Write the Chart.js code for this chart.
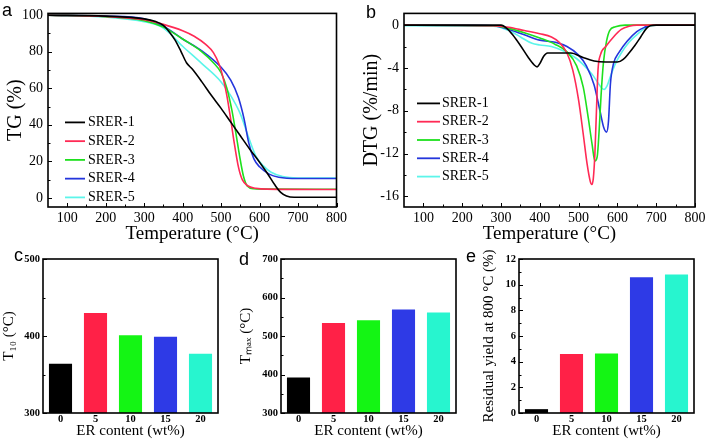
<!DOCTYPE html>
<html><head><meta charset="utf-8">
<script src="https://cdn.jsdelivr.net/npm/chart.js@4.4.1/dist/chart.umd.min.js"></script>
<style>
html,body{margin:0;padding:0;background:#fff;}
#wrap{position:relative;width:709px;height:445px;overflow:hidden;background:#fff;}
canvas{position:absolute;}
.lab{position:absolute;font-family:"Liberation Sans",Arial,sans-serif;font-size:18px;line-height:18px;color:#000;}
</style></head><body>
<div id="wrap">
<canvas id="ca" width="350" height="245" style="left:0;top:0;width:350px;height:245px"></canvas>
<canvas id="cb" width="354" height="245" style="left:355px;top:0;width:354px;height:245px"></canvas>
<canvas id="cc" width="235" height="200" style="left:0;top:240px;width:235px;height:200px"></canvas>
<canvas id="cd" width="235" height="200" style="left:235px;top:240px;width:235px;height:200px"></canvas>
<canvas id="ce" width="239" height="200" style="left:470px;top:240px;width:239px;height:200px"></canvas>
<div class="lab" style="left:2px;top:1px">a</div>
<div class="lab" style="left:366px;top:3px">b</div>
<div class="lab" style="left:14px;top:246px">c</div>
<div class="lab" style="left:239px;top:250px">d</div>
<div class="lab" style="left:466px;top:247px">e</div>
</div>
<script>
// ---------- DATA ----------
const seriesNames = ['SRER-1','SRER-2','SRER-3','SRER-4','SRER-5'];
const lineColors = ['#000000','#ff2a55','#1ee01e','#2436dc','#5cf5ea'];
const barColors  = ['#000000','#ff2147','#14f514','#2e3ae6','#27f5cf'];

const tempTicks = [100,200,300,400,500,600,700,800];
const tgTicks = [0,20,40,60,80,100];
const dtgTicks = [0,-4,-8,-12,-16];

// TG (%) curves
const tgT1 = [50,200,300,330,350,365,380,395,410,425,450,475,500,525,550,575,600,620,640,655,670,690,800];
const tgV1 = [100,99.5,98,96.5,94.5,91,86.5,80.5,74,70.5,63.5,56,49,41.5,34,26.5,19.5,13.5,7,3,1,0.3,0.3];
const tgT2 = [50,200,300,350,400,430,460,480,495,505,515,525,535,545,555,570,590,620,800];
const tgV2 = [100,99.3,97.5,95,91.5,88.5,84,79.5,73,66,56,43,29,17,10,6.5,5.3,4.8,4.6];
const tgT3 = [50,200,300,350,400,450,480,500,515,528,538,548,558,568,585,620,800];
const tgV3 = [100,99.2,97,93.5,87,80,74,68.5,60,48,36,23,12,6.5,5,4.8,4.7];
const tgT4 = [50,200,300,350,400,450,500,525,545,560,572,585,600,625,650,700,800];
const tgV4 = [100,99.5,98,94,87,80.5,71.5,64.5,55,43,30,21.5,17,13,11.3,10.6,10.6];
const tgT5 = [50,200,300,350,400,450,500,525,550,570,590,610,630,660,700,800];
const tgV5 = [100,99,96.5,93,83,73.5,63.5,56,46,34,23,17.5,14,11.7,10.9,10.8];

// DTG (%/min) curves
const dtgT1 = [50,300,315,330,350,370,385,393,400,410,420,450,480,510,540,570,600,615,630,645,660,675,685,700,800];
const dtgV1 = [0,0,-0.3,-0.9,-1.9,-3.0,-3.7,-3.9,-3.6,-2.9,-2.6,-2.6,-2.6,-3.0,-3.35,-3.45,-3.45,-3.2,-2.6,-1.9,-1.1,-0.3,-0.05,0,0];
const dtgT2 = [50,280,320,360,400,430,450,470,485,500,512,522,530,534,538,542,546,550,556,570,590,610,630,650,800];
const dtgV2 = [0,-0.05,-0.2,-0.5,-0.8,-1.1,-1.6,-2.6,-4.2,-7.0,-10.2,-13.0,-14.6,-14.9,-14.3,-12.0,-8.0,-4.2,-2.8,-2.0,-1.1,-0.4,-0.1,0,0];
const dtgT3 = [50,280,320,360,400,440,470,495,512,525,535,542,548,553,558,564,572,580,595,620,800];
const dtgV3 = [0,-0.05,-0.3,-0.7,-1.2,-1.8,-2.5,-3.8,-5.8,-8.7,-11.2,-12.7,-12.3,-9.8,-6.5,-3.5,-1.5,-0.5,-0.15,0,0];
const dtgT4 = [50,280,320,360,400,440,470,500,520,540,555,565,572,577,582,590,605,625,650,670,685,800];
const dtgV4 = [0,-0.05,-0.4,-0.9,-1.4,-1.6,-2.0,-2.8,-3.8,-5.6,-8.0,-9.6,-10.0,-9.0,-5.5,-3.6,-2.5,-1.5,-0.6,-0.2,0,0];
const dtgT5 = [50,280,320,350,380,400,430,460,490,515,535,550,560,566,573,582,595,610,630,650,670,685,700,800];
const dtgV5 = [-0.05,-0.1,-0.5,-1.1,-1.7,-1.85,-2.0,-2.4,-3.0,-3.8,-4.6,-5.4,-5.9,-6.0,-5.7,-4.8,-3.6,-2.6,-1.6,-0.9,-0.3,-0.05,0,0];

// Bar panels
const erContent = ['0','5','10','15','20'];
const t10Values = [364,430,401,399,377];
const tmaxValues = [392,534,541,569,561];
const residualValues = [0.3,4.6,4.63,10.57,10.8];
const t10Ticks = [300,400,500];
const tmaxTicks = [300,400,500,600,700];
const residualTicks = [0,2,4,6,8,10,12];

// ---------- HELPERS ----------
const FAM = "'Liberation Serif', 'Times New Roman', serif";
Chart.defaults.font.family = FAM;
Chart.defaults.color = '#000';
function F(size, weight){ return {family:FAM, size:size, weight:weight||'normal'}; }

function pts(T, V){ return T.map((t,i)=>({x:t, y:V[i]})); }
function minors(major){ const r=[]; for(let i=0;i<major.length-1;i++) r.push((major[i]+major[i+1])/2); return r; }

const frameTicks = {
  id:'frameTicks',
  afterDatasetsDraw(chart, args, o){
    const ctx=chart.ctx, a=chart.chartArea, xs=chart.scales.x, ys=chart.scales.y;
    ctx.save();
    ctx.strokeStyle='#000'; ctx.lineWidth=1;
    ctx.beginPath();
    const xm = o.xMajor||[], ym = o.yMajor||[];
    xm.forEach(v=>{const p=Math.round(xs.getPixelForValue(v))+0.5; ctx.moveTo(p,a.bottom); ctx.lineTo(p,a.bottom-4);});
    minors(xm).forEach(v=>{const p=Math.round(xs.getPixelForValue(v))+0.5; ctx.moveTo(p,a.bottom); ctx.lineTo(p,a.bottom-2.5);});
    ym.forEach(v=>{const p=Math.round(ys.getPixelForValue(v))+0.5; ctx.moveTo(a.left,p); ctx.lineTo(a.left+4,p);});
    minors(ym).forEach(v=>{const p=Math.round(ys.getPixelForValue(v))+0.5; ctx.moveTo(a.left,p); ctx.lineTo(a.left+2.5,p);});
    ctx.stroke();
    ctx.lineWidth=1.6;
    ctx.strokeRect(a.left,a.top,a.right-a.left,a.bottom-a.top);
    ctx.restore();
  }
};

const customLegend = {
  id:'customLegend',
  afterDraw(chart, args, o){
    if(!o || !o.show) return;
    const ctx=chart.ctx, a=chart.chartArea;
    ctx.save();
    ctx.font = "14px 'Liberation Serif', 'Times New Roman', serif";
    ctx.textBaseline='middle';
    ctx.textAlign='left';
    chart.data.datasets.forEach((ds,i)=>{
      const y = a.top + o.y0 + i*o.dy;
      ctx.strokeStyle=ds.borderColor; ctx.lineWidth=1.8;
      ctx.beginPath(); ctx.moveTo(a.left+o.x0,y); ctx.lineTo(a.left+o.x1,y); ctx.stroke();
      ctx.fillStyle='#000'; ctx.fillText(ds.label, a.left+o.tx, y);
    });
    ctx.restore();
  }
};

function lineChart(id, series, yMin, yMax, yTicks, yTitle, pad, yW, legendOpts){
  return new Chart(document.getElementById(id), {
    type:'line',
    data:{ datasets: series.map((s,i)=>({
      label: seriesNames[i], data: s, borderColor: lineColors[i], backgroundColor: lineColors[i],
      borderWidth:1.6, pointRadius:0, fill:false, cubicInterpolationMode:'monotone'
    }))},
    plugins:[frameTicks, customLegend],
    options:{
      responsive:false, animation:false, events:[],
      layout:{padding:pad},
      plugins:{ legend:{display:false}, tooltip:{enabled:false},
        frameTicks:{xMajor:tempTicks, yMajor:yTicks},
        customLegend:legendOpts },
      scales:{
        x:{ type:'linear', min:50, max:800,
            afterBuildTicks:s=>{ s.ticks = tempTicks.map(v=>({value:v})); },
            afterFit:s=>{ s.height = 38; },
            grid:{display:false, drawTicks:false}, border:{display:false},
            ticks:{font:F(14), padding:3, maxRotation:0, autoSkip:false},
            title:{display:true, text:'Temperature (°C)', font:F(19), padding:{top:0,bottom:0}} },
        y:{ type:'linear', min:yMin, max:yMax,
            afterBuildTicks:s=>{ s.ticks = yTicks.map(v=>({value:v})); },
            afterFit:s=>{ s.width = yW; },
            grid:{display:false, drawTicks:false}, border:{display:false},
            ticks:{font:F(14), padding:5},
            title:{display:true, text:yTitle, font:F(20), padding:{top:0,bottom:0}} }
      }
    }
  });
}

lineChart('ca', [pts(tgT1,tgV1),pts(tgT2,tgV2),pts(tgT3,tgV3),pts(tgT4,tgV4),pts(tgT5,tgV5)],
  -5, 101, tgTicks, 'TG (%)', {left:4, top:9, right:12, bottom:0}, 44,
  {show:true, x0:17, x1:37, tx:40, y0:109, dy:18.75});
lineChart('cb', [pts(dtgT1,dtgV1),pts(dtgT2,dtgV2),pts(dtgT3,dtgV3),pts(dtgT4,dtgV4),pts(dtgT5,dtgV5)],
  -17, 1.1, dtgTicks, 'DTG (%/min)', {left:5, top:9, right:14, bottom:0}, 44,
  {show:true, x0:13, x1:36, tx:38, y0:90, dy:18.3});

function barChart(id, values, yMin, yMax, yTicks, yTitle, pad, yW){
  return new Chart(document.getElementById(id), {
    type:'bar',
    data:{ labels: erContent, datasets:[{ data: values, backgroundColor: barColors, borderWidth:0,
      barPercentage:0.66, categoryPercentage:1 }]},
    plugins:[frameTicks],
    options:{
      responsive:false, animation:false, events:[],
      layout:{padding:pad},
      plugins:{ legend:{display:false}, tooltip:{enabled:false},
        frameTicks:{xMajor:[], yMajor:yTicks} },
      scales:{
        x:{ type:'category',
            afterFit:s=>{ s.height = 27; },
            grid:{display:false, drawTicks:false}, border:{display:false},
            ticks:{font:F(10.5,'bold'), padding:0, maxRotation:0},
            title:{display:true, text:'ER content (wt%)', font:F(15), padding:{top:0,bottom:0}} },
        y:{ type:'linear', min:yMin, max:yMax,
            afterBuildTicks:s=>{ s.ticks = yTicks.map(v=>({value:v})); },
            afterFit:s=>{ s.width = yW; },
            grid:{display:false, drawTicks:false}, border:{display:false},
            ticks:{font:F(10.5,'bold'), padding:3},
            title:{display:true, text:yTitle, font:F(15), padding:{top:0,bottom:0}} }
      }
    }
  });
}

barChart('cc', t10Values, 300, 500, t10Ticks, 'T₁₀ (°C)', {left:0, top:19, right:17, bottom:0}, 43);
barChart('cd', tmaxValues, 300, 700, tmaxTicks, 'Tₘₐₓ (°C)', {left:2, top:19, right:14, bottom:0}, 44);
barChart('ce', residualValues, 0, 12, residualTicks, 'Residual yield at 800 °C (%)', {left:10, top:19, right:15, bottom:0}, 39);
</script>
</body></html>
